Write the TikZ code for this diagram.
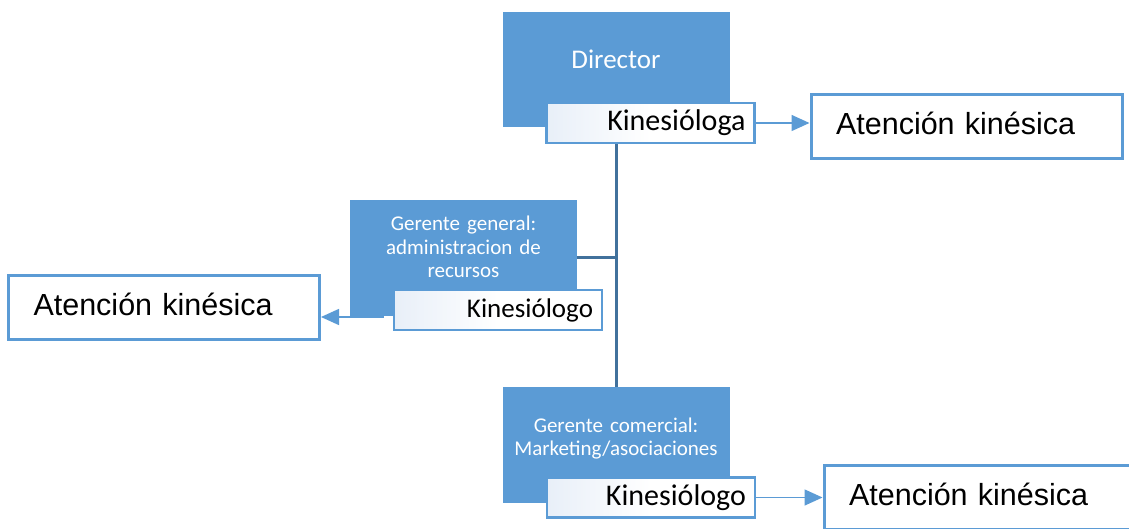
\documentclass[tikz,border=0pt]{standalone}
\usepackage{fontspec}
\setmainfont{Carlito}
\newfontfamily\arialfont{Liberation Sans}
\usetikzlibrary{positioning,arrows.meta}
\definecolor{rolefill}{HTML}{5B9BD5}
\definecolor{trunkblue}{HTML}{41719C}
\definecolor{kinetint}{HTML}{E8EFF8}

\begin{document}
\begin{tikzpicture}[x=1pt,y=-1pt,on grid,
rolebox/.style={fill=rolefill,draw=rolefill,text=white,minimum width=226pt,
  text width=210pt,align=center,inner xsep=8pt,inner ysep=0pt,
  font=\fontsize{21}{23.5}\selectfont},
kinebox/.style={draw=rolefill,line width=2.2pt,left color=kinetint,
  right color=white,middle color=white,text width=190pt,align=right,
  inner xsep=9pt,inner ysep=0pt,minimum height=40pt,
  font=\fontsize{30}{36}\selectfont},
atbox/.style={draw=rolefill,line width=3pt,fill=white,text width=261pt,
  align=left,inner xsep=25pt,inner ysep=0pt,minimum height=64pt,
  text height=22pt,text depth=6pt,font=\arialfont\fontsize{30.5}{36}\selectfont},
trunk/.style={draw=trunkblue,line width=3pt},
link/.style={draw=rolefill,line width=1.5pt,
  -{Triangle[length=18pt,width=16pt]}}]
\useasboundingbox (0,0) rectangle (1129,529);
\clip (0,0) rectangle (1129,529);

% director
\node[rolebox,minimum height=114pt,text height=57pt,text depth=57pt,
  font=\fontsize{27}{30}\selectfont] (dir) at (616,69) {Director};
\node[kinebox] (k1) [below right=54pt and 34.5pt of dir] {Kinesióloga};
\node[atbox] (at1) [below right=4pt and 316pt of k1] {Atención kinésica};

% gerente general
\node[rolebox,minimum height=115pt,text height=31pt,text depth=84pt]
  (gg) [below left=188.5pt and 152.5pt of dir]
  {Gerente general:\\administracion de\\recursos};
\node[kinebox,font=\fontsize{27}{32}\selectfont] (k2)
  [below right=52.5pt and 34.5pt of gg] {Kinesiólogo};
\node[atbox] (at2) [above left=3pt and 334pt of k2] {Atención kinésica};

% gerente comercial
\node[rolebox,minimum height=115pt,text height=45pt,text depth=70pt]
  (gc) [below=375.5pt of dir] {Gerente comercial:\\Marketing/asociaciones};
\node[kinebox] (k3) [below right=53pt and 35pt of gc] {Kinesiólogo};
\node[atbox] (at3) [right=328.5pt of k3] {Atención kinésica};

% lines
\draw[trunk] (dir.south |- k1.south) -- (dir.south |- gc.north);
\draw[trunk] (gg.east) -- (dir.south |- gg.east);
\draw[link] (k1.east) -- (k1.east -| at1.west);
\coordinate (k2out) at ([xshift=-9pt,yshift=-7pt]k2.west);
\draw[link] (k2out) -- (k2out -| at2.east);
\draw[link] (k3.east) -- (k3.east -| at3.west);
\end{tikzpicture}
\end{document}
